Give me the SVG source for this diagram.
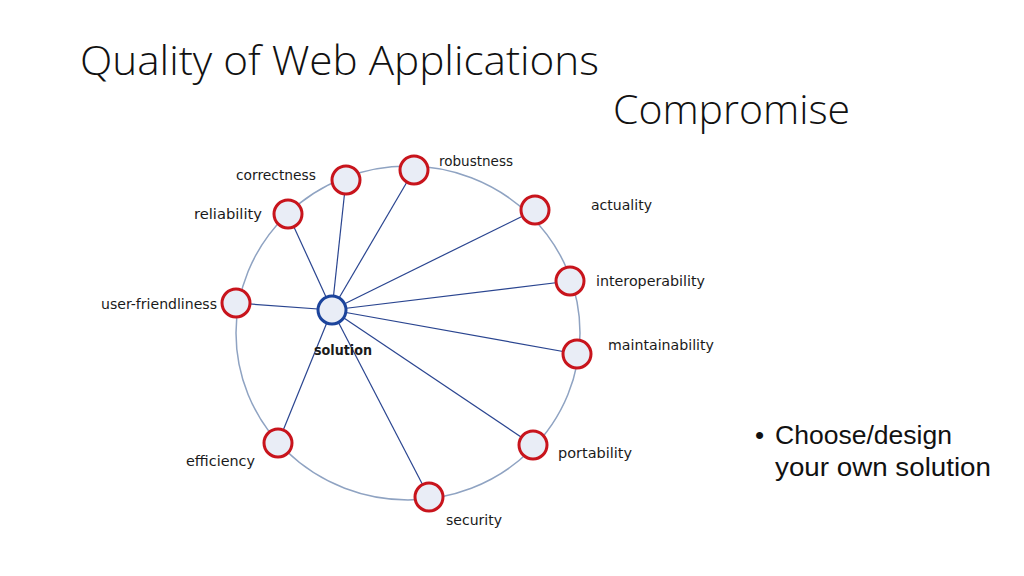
<svg xmlns="http://www.w3.org/2000/svg" width="1024" height="576" viewBox="0 0 1024 576">
<style>
.t{font-family:"Open Sans","Liberation Sans",sans-serif;font-weight:300;fill:#111}
.b{font-family:"Liberation Sans","Open Sans",sans-serif;font-size:26px;fill:#111}
.lb{font-family:"DejaVu Sans","Liberation Sans",sans-serif;font-size:14px;fill:#1a1a1a}
.n{fill:#e9edf6;stroke:#c8141c;stroke-width:3}
.s{fill:#e9edf6;stroke:#1c449c;stroke-width:3}
.e{stroke:#2a4590;stroke-width:1.2}
</style>
<rect width="1024" height="576" fill="#fff"/>
<text class="t" x="80" y="75" font-size="40" textLength="519" lengthAdjust="spacingAndGlyphs">Quality of Web Applications</text>
<text class="t" x="613" y="124" font-size="40" textLength="237" lengthAdjust="spacingAndGlyphs">Compromise</text>
<text class="b" y="444"><tspan x="755">•</tspan><tspan x="775" textLength="177" lengthAdjust="spacingAndGlyphs">Choose/design</tspan></text>
<text class="b" x="775" y="476" textLength="216" lengthAdjust="spacingAndGlyphs">your own solution</text>
<ellipse cx="408" cy="333" rx="172" ry="167" fill="none" stroke="#8fa3c2" stroke-width="1.5"/>
<g id="connectors">
<line class="e" x1="332" y1="310" x2="346" y2="180"/>
<line class="e" x1="332" y1="310" x2="414" y2="170"/>
<line class="e" x1="332" y1="310" x2="288" y2="214"/>
<line class="e" x1="332" y1="310" x2="535" y2="210"/>
<line class="e" x1="332" y1="310" x2="570" y2="281"/>
<line class="e" x1="332" y1="310" x2="236" y2="303"/>
<line class="e" x1="332" y1="310" x2="577" y2="354"/>
<line class="e" x1="332" y1="310" x2="278" y2="443"/>
<line class="e" x1="332" y1="310" x2="533" y2="445"/>
<line class="e" x1="332" y1="310" x2="429" y2="497"/>
</g>
<g id="correctness"><circle class="n" cx="346" cy="180" r="14"/><text class="lb" x="236" y="180" textLength="80" lengthAdjust="spacingAndGlyphs">correctness</text></g>
<g id="robustness"><circle class="n" cx="414" cy="170" r="14"/><text class="lb" x="439" y="166" textLength="74" lengthAdjust="spacingAndGlyphs">robustness</text></g>
<g id="reliability"><circle class="n" cx="288" cy="214" r="14"/><text class="lb" x="194" y="219" textLength="68" lengthAdjust="spacingAndGlyphs">reliability</text></g>
<g id="actuality"><circle class="n" cx="535" cy="210" r="14"/><text class="lb" x="591" y="210" textLength="61" lengthAdjust="spacingAndGlyphs">actuality</text></g>
<g id="interoperability"><circle class="n" cx="570" cy="281" r="14"/><text class="lb" x="596" y="286" textLength="109" lengthAdjust="spacingAndGlyphs">interoperability</text></g>
<g id="user-friendliness"><circle class="n" cx="236" cy="303" r="14"/><text class="lb" x="101" y="309" textLength="116" lengthAdjust="spacingAndGlyphs">user-friendliness</text></g>
<g id="maintainability"><circle class="n" cx="577" cy="354" r="14"/><text class="lb" x="608" y="350" textLength="106" lengthAdjust="spacingAndGlyphs">maintainability</text></g>
<g id="efficiency"><circle class="n" cx="278" cy="443" r="14"/><text class="lb" x="186" y="466" textLength="69" lengthAdjust="spacingAndGlyphs">efficiency</text></g>
<g id="portability"><circle class="n" cx="533" cy="445" r="14"/><text class="lb" x="558" y="458" textLength="74" lengthAdjust="spacingAndGlyphs">portability</text></g>
<g id="security"><circle class="n" cx="429" cy="497" r="14"/><text class="lb" x="446" y="525" textLength="56" lengthAdjust="spacingAndGlyphs">security</text></g>
<g id="solution"><circle class="s" cx="332" cy="310" r="14"/><text class="lb" x="314" y="355" font-weight="bold" textLength="58" lengthAdjust="spacingAndGlyphs">solution</text></g>
</svg>
